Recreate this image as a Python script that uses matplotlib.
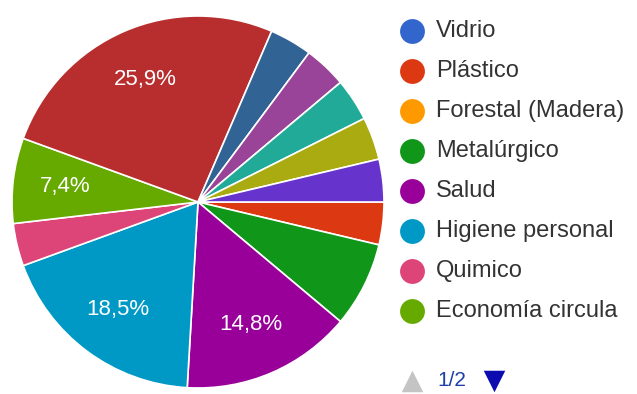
import matplotlib
matplotlib.use("Agg")
import matplotlib.pyplot as plt
import numpy as np

# ---- data ----
categories = ["Vidrio", "Plástico", "Forestal (Madera)", "Metalúrgico", "Salud",
              "Higiene personal", "Quimico", "Economía circula",
              "Categoría 9", "Categoría 10", "Categoría 11", "Categoría 12",
              "Categoría 13", "Categoría 14"]
counts = [0, 1, 0, 2, 4, 5, 1, 2, 7, 1, 1, 1, 1, 1]
colors = ["#3366cc", "#dc3912", "#ff9900", "#109618", "#990099", "#0099c6",
          "#dd4477", "#66aa00", "#b82e2e", "#316395", "#994499", "#22aa99",
          "#aaaa11", "#6633cc"]
legend_page = categories[:8]          # page 1 of 2 of the legend
labeled = ["Salud", "Higiene personal", "Economía circula", "Categoría 9"]
page_text = "1/2"

W, H = 637, 394
fig = plt.figure(figsize=(W / 100, H / 100), dpi=100)
fig.patch.set_facecolor("white")

# pie axes: centre (198, 202) px, radius 186 px
cx, cy, r = 198, 202, 186
ax = fig.add_axes([(cx - r) / W, (H - cy - r) / H, 2 * r / W, 2 * r / H])
ax.set_aspect("equal")

nz = [(c, v, col) for c, v, col in zip(categories, counts, colors) if v > 0]
total = sum(counts)
wedges, _ = ax.pie([v for _, v, _ in nz], colors=[col for _, _, col in nz],
                   startangle=0, counterclock=False, radius=1,
                   wedgeprops=dict(edgecolor="white", linewidth=1.2))
for w, (c, v, col) in zip(wedges, nz):
    if c in labeled:
        mid = np.deg2rad((w.theta1 + w.theta2) / 2)
        pct = 100 * v / total
        ax.text(0.72 * np.cos(mid), 0.72 * np.sin(mid),
                f"{pct:.1f}%".replace(".", ","), color="white",
                ha="center", va="center", fontsize=16, family="Liberation Sans")
ax.set_xlim(-1, 1)
ax.set_ylim(-1, 1)
ax.axis("off")

# legend overlay in pixel coordinates
lax = fig.add_axes([0, 0, 1, 1], zorder=5)
lax.set_xlim(0, W)
lax.set_ylim(H, 0)
lax.axis("off")
lax.patch.set_alpha(0)
for i, name in enumerate(legend_page):
    y = 31 + 40 * i
    lax.scatter([412], [y], s=320, color=colors[categories.index(name)], linewidths=0)
    lax.text(436, y, name, va="center", ha="left", fontsize=17,
             color="#333333", family="Liberation Sans")

lax.scatter([412], [381], s=240, marker="^", color="#c4c4c4", linewidths=0)
lax.text(437, 380, page_text, va="center", ha="left", fontsize=15,
         color="#1f3fa8", family="Liberation Sans")
lax.scatter([494], [381], s=240, marker="v", color="#0b0bb0", linewidths=0)

fig.savefig("out.png", dpi=100, facecolor="white")
